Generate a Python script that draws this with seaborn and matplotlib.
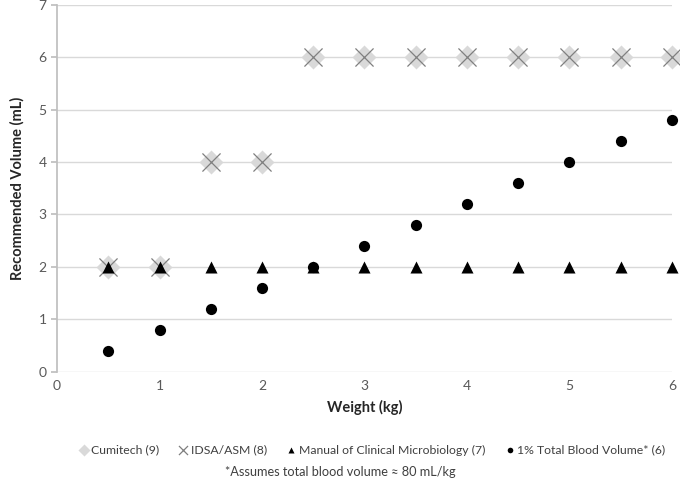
import numpy as np
import pandas as pd
import seaborn as sns
import matplotlib.pyplot as plt

# data
weights = [0.5, 1, 1.5, 2, 2.5, 3, 3.5, 4, 4.5, 5, 5.5, 6]
cumitech = [2, 2, 4, 4, 6, 6, 6, 6, 6, 6, 6, 6]
idsa = [2, 2, 4, 4, 6, 6, 6, 6, 6, 6, 6, 6]
manual = [2, 2, 2, 2, 2, 2, 2, 2, 2, 2, 2, 2]
blood = [0.4, 0.8, 1.2, 1.6, 2.0, 2.4, 2.8, 3.2, 3.6, 4.0, 4.4, 4.8]

names = ["Cumitech (9)", "IDSA/ASM (8)", "Manual of Clinical Microbiology (7)",
         "1% Total Blood Volume* (6)"]

df = pd.concat([
    pd.DataFrame({"weight": weights, "volume": vals, "source": name})
    for name, vals in zip(names, [cumitech, idsa, manual, blood])
])

sns.set_theme(style="white")
plt.rcParams['font.family'] = ['Lato', 'DejaVu Sans']

fig, ax = plt.subplots(figsize=(6.8, 4.84), dpi=100)
fig.subplots_adjust(left=0.084, right=0.988, top=0.99, bottom=0.232)

styles = {
    names[0]: dict(marker="D", color="#d9d9d9", s=150, linewidth=0),
    names[1]: dict(marker="x", color="#7f7f7f", s=170, linewidth=0.9),
    names[2]: dict(marker="^", color="black", s=75, linewidth=0),
    names[3]: dict(marker="o", color="black", s=65, linewidth=0),
}
for name in names:
    st = styles[name]
    sns.scatterplot(data=df[df.source == name], x="weight", y="volume", ax=ax,
                    marker=st["marker"], color=st["color"], s=st["s"],
                    linewidth=st["linewidth"], label=name, zorder=3, clip_on=False)

ax.set_xlim(0, 6)
ax.set_ylim(0, 7)
ax.set_xticks(range(0, 7))
ax.set_yticks(range(0, 8))
ax.yaxis.grid(True, color="#d9d9d9", linewidth=1)
ax.xaxis.grid(False)
for side in ["top", "right", "bottom"]:
    ax.spines[side].set_visible(False)
ax.spines["left"].set_color("#bfbfbf")
ax.tick_params(axis="y", length=4, color="#bfbfbf", labelcolor="#595959", labelsize=10, left=True)
ax.tick_params(axis="x", length=0, labelcolor="#595959", labelsize=10, pad=6)
ax.set_xlabel("Weight (kg)", fontsize=10.5, fontweight="bold", labelpad=6)
ax.set_ylabel("Recommended Volume (mL)", fontsize=10.5, fontweight="bold", labelpad=10)

handles, labels = ax.get_legend_handles_labels()
ax.get_legend().remove()
leg = fig.legend(handles, labels, loc="center", bbox_to_anchor=(0.545, 0.07), ncol=4,
                 frameon=False, fontsize=8.8, handletextpad=0.0, columnspacing=1.4,
                 handlelength=1.2, markerscale=0.5, labelcolor="#404040")
fig.text(0.5, 0.025, "*Assumes total blood volume \u2248 80 mL/kg", ha="center",
         va="center", fontsize=9.2, color="#404040")

fig.savefig("out.png", dpi=100)
